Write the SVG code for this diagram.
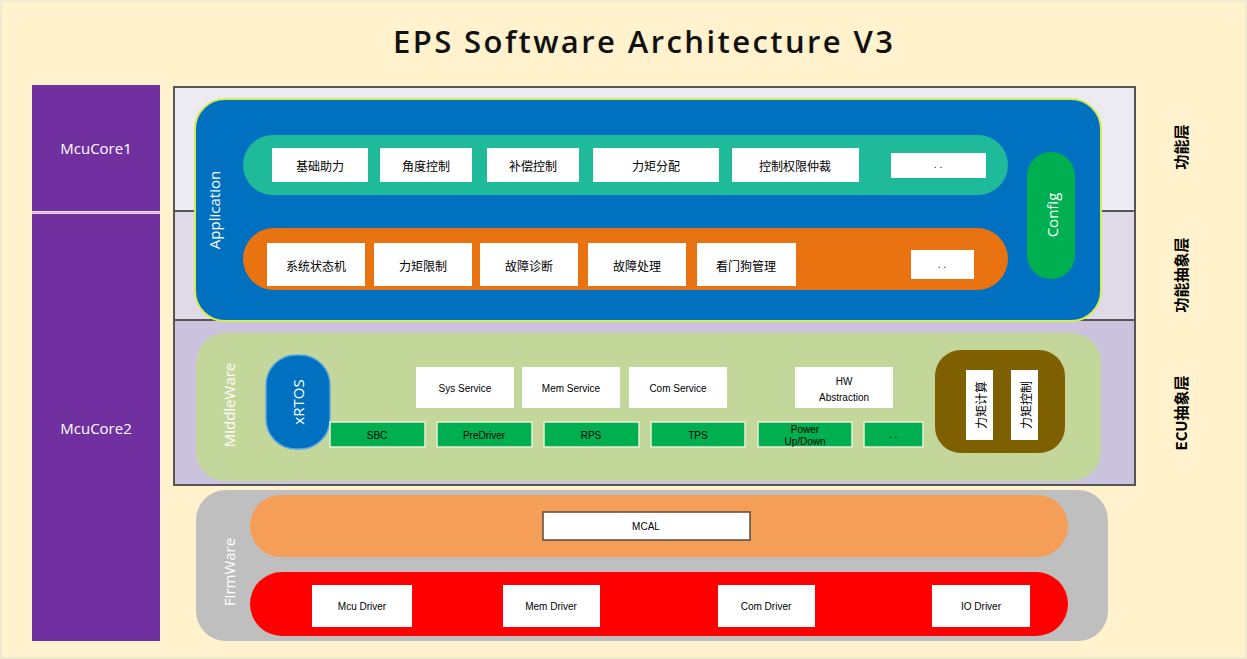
<svg xmlns="http://www.w3.org/2000/svg" width="1247" height="659" viewBox="0 0 1247 659">
<defs>
<style>
.cn{font-family:"Noto Sans CJK SC","Liberation Sans",sans-serif;font-size:12px;fill:#000;text-anchor:middle;dominant-baseline:central}
.en{font-family:"Liberation Sans","Noto Sans",sans-serif;font-size:10px;fill:#000;text-anchor:middle;dominant-baseline:central}
.wb{fill:#fff}
.gb{fill:#00B050;stroke:#E8F0D8;stroke-width:1.5}
.lbl{font-family:"Open Sans","Liberation Sans",sans-serif;font-size:15px;fill:#fff;text-anchor:middle;dominant-baseline:central}
.side{font-family:"Noto Sans CJK SC","Liberation Sans",sans-serif;font-size:15px;font-weight:bold;fill:#000;text-anchor:middle;dominant-baseline:central}
</style>
</defs>
<rect x="0" y="0" width="1247" height="659" fill="#FFF2CC"/>
<rect x="1" y="1" width="1245" height="657" fill="none" stroke="#E6E2D0" stroke-width="1"/>
<text x="643" y="41" font-family="'Open Sans','Liberation Sans',sans-serif" font-size="31" font-weight="600" text-anchor="middle" dominant-baseline="central" fill="#111" textLength="500" lengthAdjust="spacing">EPS Software Architecture V3</text>

<g id="cores">
<rect x="32" y="85" width="128" height="126" fill="#7030A0"/>
<rect x="32" y="214" width="128" height="427" fill="#7030A0"/>
<line x1="32" y1="212.5" x2="160" y2="212.5" stroke="#D9B8E0" stroke-width="2"/>
<text x="96" y="148" class="lbl" font-size="14">McuCore1</text>
<text x="96" y="428" class="lbl" font-size="14">McuCore2</text>
</g>

<g id="bands">
<rect x="174" y="87" width="961" height="124" fill="#ECEAF2"/>
<rect x="174" y="211" width="961" height="109" fill="#E0DAE8"/>
<rect x="174" y="320" width="961" height="165" fill="#CBC3DD"/>
<line x1="174" y1="211" x2="1135" y2="211" stroke="#555" stroke-width="2"/>
<line x1="174" y1="320" x2="1135" y2="320" stroke="#555" stroke-width="2"/>
<rect x="174" y="87" width="961" height="398" fill="none" stroke="#555" stroke-width="2"/>
</g>

<g id="application">
<rect x="195" y="99" width="906" height="222" rx="30" fill="#0070C0" stroke="#D8EC50" stroke-width="2"/>
<text transform="translate(214,210) rotate(-90)" class="lbl">Application</text>
<g id="app-row1">
<rect x="243" y="135" width="765" height="60" rx="30" fill="#1FBA9A"/>
<rect x="272" y="148" width="96" height="34" class="wb"/><text x="320" y="165" class="cn">基础助力</text>
<rect x="380" y="148" width="92" height="34" class="wb"/><text x="426" y="165" class="cn">角度控制</text>
<rect x="487" y="148" width="92" height="34" class="wb"/><text x="533" y="165" class="cn">补偿控制</text>
<rect x="593" y="148" width="126" height="34" class="wb"/><text x="656" y="165" class="cn">力矩分配</text>
<rect x="732" y="148" width="127" height="34" class="wb"/><text x="795" y="165" class="cn">控制权限仲裁</text>
<rect x="891" y="153" width="95" height="25" class="wb"/><text x="938" y="164" class="en">. .</text>
</g>
<g id="app-row2">
<rect x="243" y="228" width="765" height="62" rx="31" fill="#E97211"/>
<rect x="267" y="243" width="98" height="43" class="wb"/><text x="316" y="265" class="cn">系统状态机</text>
<rect x="374" y="243" width="98" height="43" class="wb"/><text x="423" y="265" class="cn">力矩限制</text>
<rect x="480" y="243" width="98" height="43" class="wb"/><text x="529" y="265" class="cn">故障诊断</text>
<rect x="588" y="243" width="98" height="43" class="wb"/><text x="637" y="265" class="cn">故障处理</text>
<rect x="697" y="243" width="99" height="43" class="wb"/><text x="746" y="265" class="cn">看门狗管理</text>
<rect x="911" y="250" width="63" height="29" class="wb"/><text x="942" y="264" class="en">. .</text>
</g>
<g id="config">
<rect x="1027" y="152" width="48" height="127" rx="24" fill="#00B050"/>
<text transform="translate(1052,215) rotate(-90)" class="lbl" font-size="14">Config</text>
</g>
</g>

<g id="middleware">
<rect x="196" y="333" width="905" height="148" rx="30" fill="#C4D79B"/>
<text transform="translate(229,405) rotate(-90)" class="lbl" font-size="14">MiddleWare</text>
<g id="xrtos">
<rect x="266" y="355" width="64" height="94" rx="30" fill="#0070C0" stroke="#5BA6E0" stroke-width="1.5"/>
<text transform="translate(298,402) rotate(-90)" class="lbl" font-size="14">xRTOS</text>
</g>
<rect x="416" y="367" width="98" height="41" class="wb"/><text x="465" y="388" class="en">Sys Service</text>
<rect x="522" y="367" width="98" height="41" class="wb"/><text x="571" y="388" class="en">Mem Service</text>
<rect x="629" y="367" width="98" height="41" class="wb"/><text x="678" y="388" class="en">Com Service</text>
<rect x="795" y="367" width="98" height="41" class="wb"/><text x="844" y="381" class="en">HW</text><text x="844" y="397" class="en">Abstraction</text>
<rect x="330" y="422" width="95" height="25" class="gb"/><text x="377" y="435" class="en">SBC</text>
<rect x="437" y="422" width="95" height="25" class="gb"/><text x="484" y="435" class="en">PreDriver</text>
<rect x="544" y="422" width="95" height="25" class="gb"/><text x="591" y="435" class="en">RPS</text>
<rect x="651" y="422" width="94" height="25" class="gb"/><text x="698" y="435" class="en">TPS</text>
<rect x="758" y="422" width="94" height="25" class="gb"/><text x="805" y="429" class="en">Power</text><text x="805" y="441" class="en">Up/Down</text>
<rect x="864" y="422" width="59" height="25" class="gb"/><text x="893" y="434" class="en">. .</text>
<g id="torque">
<rect x="935" y="350" width="130" height="103" rx="26" fill="#7F6000"/>
<rect x="966" y="370" width="27" height="70" class="wb"/>
<text transform="translate(980,405) rotate(-90)" class="cn">力矩计算</text>
<rect x="1011" y="370" width="27" height="70" class="wb"/>
<text transform="translate(1025,405) rotate(-90)" class="cn">力矩控制</text>
</g>
</g>

<g id="firmware">
<rect x="196" y="490" width="912" height="151" rx="30" fill="#BFBFBF"/>
<text transform="translate(229,572) rotate(-90)" class="lbl" font-size="14" fill="#F2F2F2">FirmWare</text>
<rect x="250" y="495" width="818" height="62" rx="31" fill="#F59E58"/>
<rect x="543" y="512" width="207" height="28" fill="#fff" stroke="#5A4A3A" stroke-width="1.5"/>
<text x="646" y="526" class="en">MCAL</text>
<rect x="250" y="572" width="818" height="64" rx="32" fill="#FF0000"/>
<rect x="312" y="585" width="100" height="42" class="wb"/><text x="362" y="606" class="en">Mcu Driver</text>
<rect x="503" y="585" width="97" height="42" class="wb"/><text x="551" y="606" class="en">Mem Driver</text>
<rect x="718" y="585" width="97" height="42" class="wb"/><text x="766" y="606" class="en">Com Driver</text>
<rect x="932" y="585" width="98" height="42" class="wb"/><text x="981" y="606" class="en">IO Driver</text>
</g>

<g id="side-labels">
<text transform="translate(1180,147) rotate(-90)" class="side">功能层</text>
<text transform="translate(1180,275) rotate(-90)" class="side">功能抽象层</text>
<text transform="translate(1180,413) rotate(-90)" class="side">ECU抽象层</text>
</g>
</svg>
